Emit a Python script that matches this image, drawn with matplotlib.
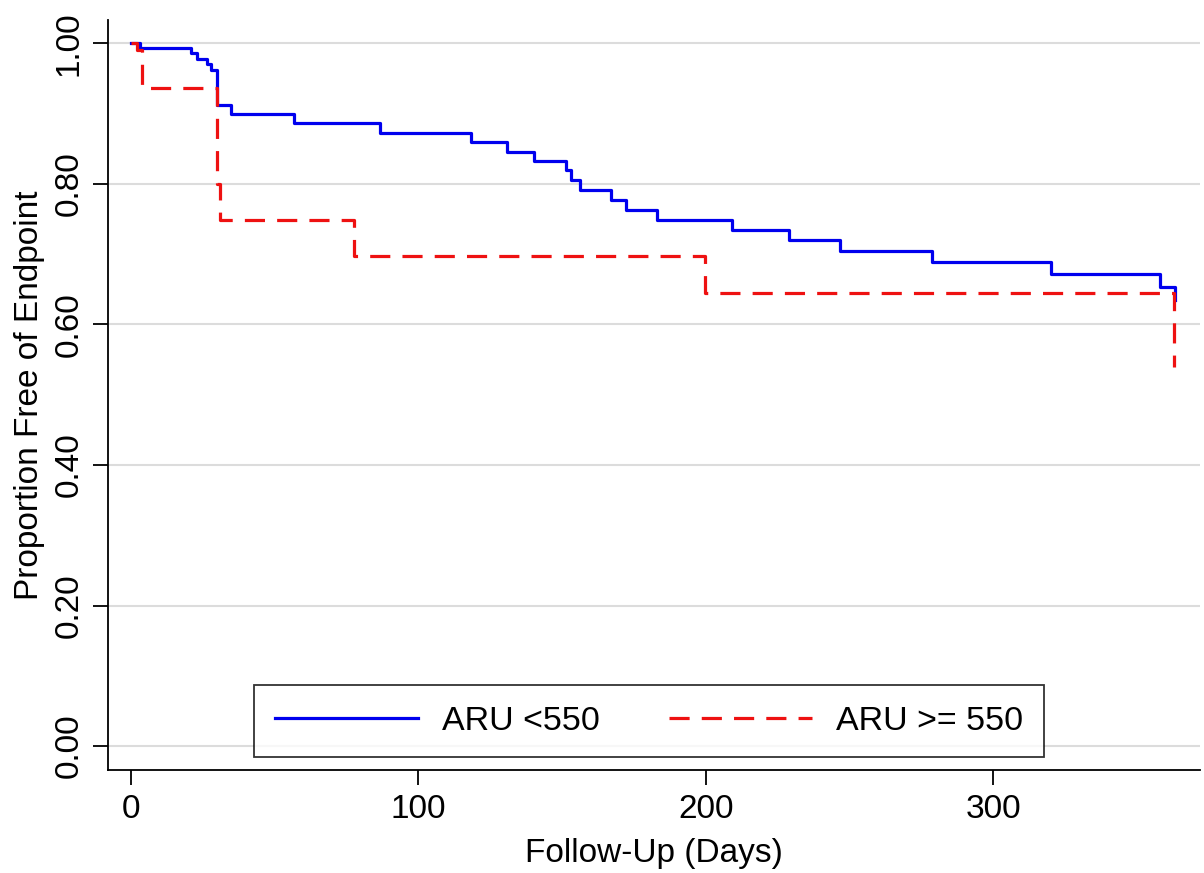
import matplotlib
matplotlib.use("Agg")
import matplotlib.pyplot as plt
from matplotlib.ticker import FormatStrFormatter

plt.rcParams['font.family'] = ['Liberation Sans', 'DejaVu Sans']

# Kaplan-Meier steps (days, proportion free of endpoint)
low_days = [0, 3, 20.8, 22.9, 26.5, 27.9, 29.9, 34.8, 56.6, 86.5, 118.4, 130.7,
            140.4, 151.2, 153.2, 156.2, 167.1, 172.1, 183.2, 209, 229, 246.8,
            278.6, 320, 358.2, 363.2]
low_surv = [1.0, 0.993, 0.986, 0.978, 0.971, 0.962, 0.912, 0.899, 0.886, 0.872,
            0.859, 0.845, 0.832, 0.819, 0.805, 0.791, 0.777, 0.763, 0.748, 0.734,
            0.720, 0.705, 0.689, 0.671, 0.653, 0.635]

high_days = [0, 2, 4, 29.9, 30.8, 77.7, 199.7, 362.9]
high_surv = [1.0, 0.99, 0.937, 0.80, 0.748, 0.698, 0.645, 0.54]

labels = ['ARU <550', 'ARU >= 550']
x_ticks = [0, 100, 200, 300]
y_ticks = [0.0, 0.2, 0.4, 0.6, 0.8, 1.0]

fig = plt.figure(figsize=(12.04, 8.73), dpi=100)
ax = fig.add_axes([0.0897, 0.118, 0.907, 0.859])

ax.plot(low_days, low_surv, drawstyle='steps-post', color='#0000ee',
        lw=2.3, label=labels[0])
ax.plot(high_days, high_surv, drawstyle='steps-post', color='#ee1111',
        lw=2.3, dashes=(6.3, 3.8), label=labels[1])

ax.set_xlim(-8, 372)
ax.set_ylim(-0.034, 1.033)
ax.set_xticks(x_ticks)
ax.set_yticks(y_ticks)
ax.yaxis.set_major_formatter(FormatStrFormatter('%.2f'))
ax.grid(axis='y', color='#dcdcdc', lw=1.5)
ax.set_axisbelow(True)

for side in ['top', 'right']:
    ax.spines[side].set_visible(False)
for side in ['left', 'bottom']:
    ax.spines[side].set_linewidth(1.3)

ax.tick_params(axis='both', direction='out', length=11, width=1.3,
               labelsize=24, pad=6)
plt.setp(ax.get_yticklabels(), rotation=90, va='center')

ax.set_xlabel('Follow-Up (Days)', fontsize=24, labelpad=10)
ax.set_ylabel('Proportion Free of Endpoint', fontsize=24, labelpad=6)

leg = ax.legend(loc='lower center', bbox_to_anchor=(0.4954, 0.0173), ncol=2,
                fontsize=24.5, frameon=True, fancybox=False, handlelength=4.2,
                columnspacing=2.05, handletextpad=0.7, borderpad=0.6,
                borderaxespad=0)
leg.get_frame().set_edgecolor('black')
leg.get_frame().set_linewidth(1.3)

fig.savefig('out.png', dpi=100, facecolor='white')
